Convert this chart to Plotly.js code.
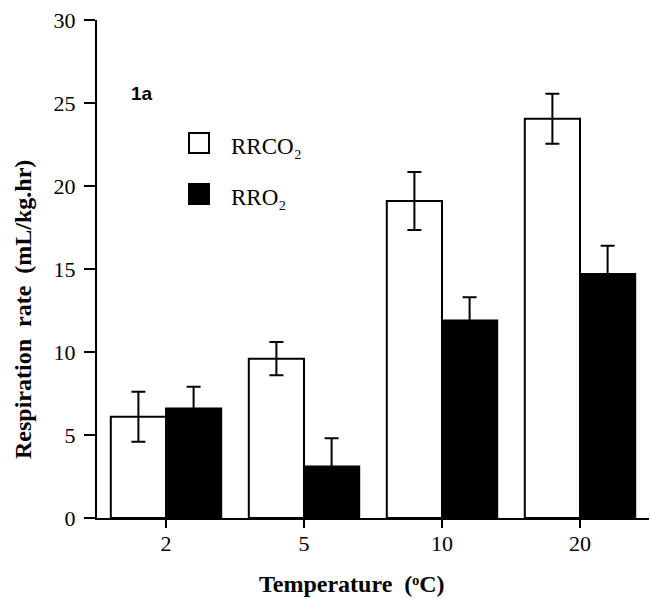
<!DOCTYPE html>
<html>
<head>
<meta charset="utf-8">
<script src="https://cdn.plot.ly/plotly-3.0.1.min.js"></script>
<style>html,body{margin:0;padding:0;background:#fff;}#chart{width:650px;height:599px;}</style>
</head>
<body>
<div id="chart"></div>
<script>
// Data
const temperatures = ['2', '5', '10', '20'];
const rrco2 = [6.1, 9.6, 19.1, 24.05];
const rrco2Err = [1.5, 1.0, 1.75, 1.5];
const rro2 = [6.6, 3.1, 11.9, 14.7];
const rro2Err = [1.3, 1.7, 1.4, 1.7];
const yTicks = [0, 5, 10, 15, 20, 25, 30];
const seriesNames = ['RRCO\u2082', 'RRO\u2082'];

const serif = 'Liberation Serif, Times New Roman, serif';

const traces = [
  {
    type: 'bar', x: temperatures, y: rrco2, name: seriesNames[0],
    marker: {color: '#ffffff', line: {color: '#000', width: 2}},
    error_y: {type: 'data', array: rrco2Err, visible: true, color: '#000', thickness: 2, width: 7}
  },
  {
    type: 'bar', x: temperatures, y: rro2, name: seriesNames[1],
    marker: {color: '#000000', line: {color: '#000', width: 2}},
    error_y: {type: 'data', array: rro2Err, visible: true, color: '#000', thickness: 2, width: 7}
  }
];

const layout = {
  width: 650, height: 599,
  margin: {l: 97, r: 1, t: 20, b: 81},
  paper_bgcolor: '#fff', plot_bgcolor: '#fff',
  showlegend: false,
  barmode: 'group', bargap: 0.2, bargroupgap: 0,
  font: {family: serif, color: '#000', size: 22},
  xaxis: {
    type: 'category', categoryorder: 'array', categoryarray: temperatures,
    range: [-0.5, 3.5],
    showline: true, linecolor: '#000', linewidth: 2,
    ticks: 'outside', ticklen: 8, tickwidth: 2, tickcolor: '#000',
    ticklabelstandoff: -3,
    showgrid: false, zeroline: false,
    tickfont: {family: serif, size: 22, color: '#000'}
  },
  yaxis: {
    range: [0, 30], tickvals: yTicks, ticktext: yTicks.map(String),
    showline: true, linecolor: '#000', linewidth: 2,
    ticks: 'outside', ticklen: 11, tickwidth: 2, tickcolor: '#000',
    ticklabelstandoff: 4,
    showgrid: false, zeroline: false,
    tickfont: {family: serif, size: 22, color: '#000'}
  },
  shapes: [
    {type: 'rect', xref: 'paper', yref: 'paper', x0: (189-97)/552, x1: (209-97)/552,
     y0: (518-153)/498, y1: (518-133)/498, fillcolor: '#fff', line: {color: '#000', width: 2}},
    {type: 'rect', xref: 'paper', yref: 'paper', x0: (189-97)/552, x1: (209-97)/552,
     y0: (518-204)/498, y1: (518-184)/498, fillcolor: '#000', line: {color: '#000', width: 2}}
  ],
  annotations: [
    {xref: 'paper', yref: 'paper', x: (229-97)/552, y: (518-146)/498, xanchor: 'left', yanchor: 'middle',
     text: seriesNames[0], showarrow: false, font: {family: serif, size: 23, color: '#000'}},
    {xref: 'paper', yref: 'paper', x: (229-97)/552, y: (518-197)/498, xanchor: 'left', yanchor: 'middle',
     text: seriesNames[1], showarrow: false, font: {family: serif, size: 23, color: '#000'}},
    {xref: 'paper', yref: 'paper', x: (129-97)/552, y: (518-93)/498, xanchor: 'left', yanchor: 'middle',
     text: '<b>1a</b>', showarrow: false, font: {family: 'Liberation Sans, Arial, sans-serif', size: 19, color: '#000'}},
    {xref: 'paper', yref: 'paper', x: (352-97)/552, y: (518-584)/498, xanchor: 'center', yanchor: 'middle',
     text: '<b>Temperature  (\u1D52C)</b>', showarrow: false, font: {family: serif, size: 24, color: '#000'}},
    {xref: 'paper', yref: 'paper', x: (23-97)/552, y: (518-310)/498, xanchor: 'center', yanchor: 'middle',
     textangle: -90,
     text: '<b>Respiration  rate  (mL/kg.hr)</b>', showarrow: false, font: {family: serif, size: 24, color: '#000'}}
  ]
};

Plotly.newPlot('chart', traces, layout, {displayModeBar: false});
</script>
</body>
</html>
